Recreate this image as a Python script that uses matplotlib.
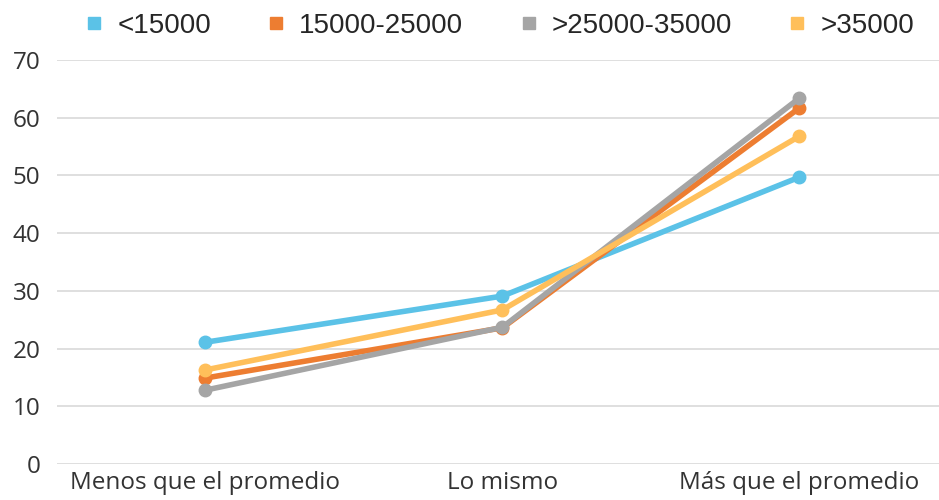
import matplotlib.pyplot as plt
from matplotlib.lines import Line2D

categories = ['Menos que el promedio', 'Lo mismo', 'Más que el promedio']
series = ['<15000', '15000-25000', '>25000-35000', '>35000']
v_lt15 = [21.1, 29.1, 49.7]
v_15_25 = [14.9, 23.6, 61.7]
v_25_35 = [12.8, 23.7, 63.4]
v_gt35 = [16.3, 26.7, 56.8]
colors = ['#5BC2E7', '#ED7D31', '#A5A5A5', '#FFBF5A']

plt.rcParams['font.family'] = ['Open Sans', 'DejaVu Sans']

fig = plt.figure(figsize=(9.39, 5.0), dpi=100)
ax = fig.add_axes([57 / 939, 36 / 500, 882 / 939, 404 / 500])

x = range(len(categories))
for vals, col in zip([v_lt15, v_15_25, v_25_35, v_gt35], colors):
    ax.plot(x, vals, color=col, linewidth=4, marker='o', markersize=9,
            solid_capstyle='round')

ax.set_xlim(-0.5, 2.47)
ax.set_ylim(0, 70)
ax.set_yticks(range(0, 71, 10))
ax.set_xticks(list(x))
ax.set_xticklabels(categories)
ax.grid(axis='y', color='#D9D9D9', linewidth=1.2)
ax.set_axisbelow(True)
for s in ax.spines.values():
    s.set_visible(False)
ax.tick_params(axis='both', length=0, labelsize=17.5, labelcolor='#333333')
ax.tick_params(axis='x', pad=5)
ax.tick_params(axis='y', pad=12)

handles = [Line2D([], [], color=c, marker='s', linestyle='none', markersize=8.5)
           for c in colors]
fig.legend(handles, series, loc='upper center', bbox_to_anchor=(0.531, 1.025),
           ncol=4, frameon=False, handlelength=0.8, handletextpad=0.43,
           columnspacing=1.95, labelcolor='#262626',
           prop={'family': 'Liberation Sans', 'size': 20})

plt.savefig('out.png', dpi=100)
